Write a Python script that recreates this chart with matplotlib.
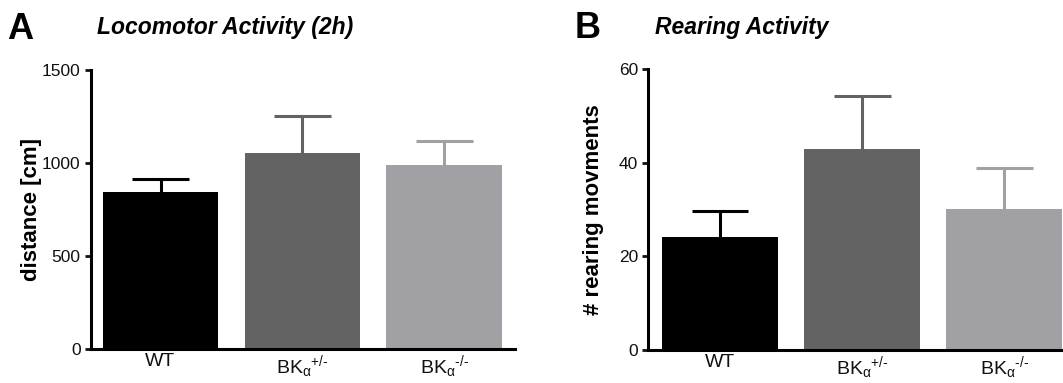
import matplotlib
matplotlib.use('agg')
import matplotlib.pyplot as plt

plt.rcParams['font.family'] = ['Liberation Sans', 'DejaVu Sans']
plt.rcParams['mathtext.fontset'] = 'custom'
plt.rcParams['mathtext.rm'] = 'Liberation Sans'
plt.rcParams['mathtext.it'] = 'Liberation Sans:italic'

# data
groups = ['WT', r'BK$_\mathrm{\alpha}{}^{\text{+/-}}$', r'BK$_\mathrm{\alpha}{}^{\text{-/-}}$']
bar_colors = ['#000000', '#636363', '#a1a0a5']

distance_mean = [841, 1052, 989]
distance_sem = [72, 199, 127]

rearing_mean = [24.2, 43.0, 30.1]
rearing_sem = [5.5, 11.3, 8.7]

fig = plt.figure(figsize=(10.63, 3.83), dpi=100)

axA = fig.add_axes([0.0856, 0.0900, 0.399, 0.727])
axB = fig.add_axes([0.610, 0.086, 0.395, 0.734])


def draw_panel(ax, means, sems, ylim, yticks, ylabel, xlim, label_x):
    x = list(range(len(means)))
    for i in x:
        # upper error bar only, no cap at the bar top
        top = means[i] + sems[i]
        ax.vlines(i, means[i], top, color=bar_colors[i], lw=2.2, zorder=1)
        ax.hlines(top, i - 0.2, i + 0.2, color=bar_colors[i], lw=2.2, zorder=1)
        ax.bar(i, means[i], width=0.815, color=bar_colors[i], zorder=2)
    ax.set_xlim(*xlim)
    ax.set_ylim(*ylim)
    ax.set_yticks(yticks)
    ax.set_xticks(x)
    ax.set_xticklabels(groups, fontsize=14)
    ax.set_ylabel(ylabel, fontsize=16, fontweight='bold')
    ax.yaxis.set_label_coords(label_x, 0.5)
    for s in ['top', 'right']:
        ax.spines[s].set_visible(False)
    for s in ['left', 'bottom']:
        ax.spines[s].set_linewidth(2.2)
    ax.tick_params(axis='y', length=4.5, width=2.0, pad=3, labelsize=12.5,
                   colors='#111111')
    ax.tick_params(axis='x', length=0, pad=3, colors='#111111')


draw_panel(axA, distance_mean, distance_sem, (0, 1500), [0, 500, 1000, 1500],
           'distance [cm]', (-0.49, 2.5), -0.116)
draw_panel(axB, rearing_mean, rearing_sem, (0, 60), [0, 20, 40, 60],
           '# rearing movments', (-0.503, 2.45), -0.107)

fig.text(7 / 1063, 1 - 39 / 383, 'A', fontsize=26, fontweight='bold', va='baseline')
fig.text(97 / 1063, 1 - 34 / 383, 'Locomotor Activity (2h)', fontsize=16.5,
         fontweight='bold', fontstyle='italic', va='baseline')
fig.text(575 / 1063, 1 - 38 / 383, 'B', fontsize=26, fontweight='bold', va='baseline')
fig.text(655 / 1063, 1 - 34 / 383, 'Rearing Activity', fontsize=16.5,
         fontweight='bold', fontstyle='italic', va='baseline')

fig.savefig('out.png', dpi=100)
